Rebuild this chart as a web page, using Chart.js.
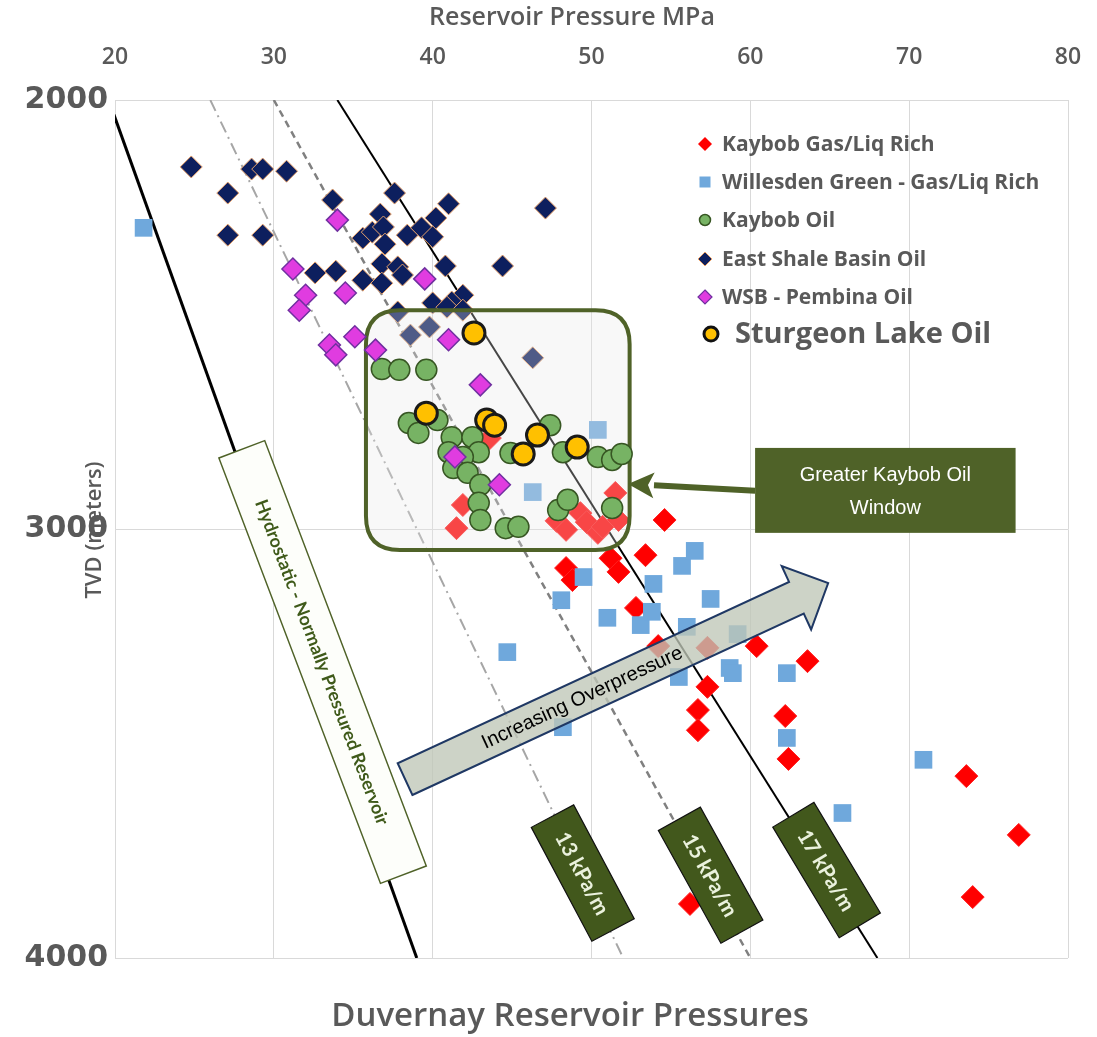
<!DOCTYPE html>
<html><head><meta charset="utf-8">
<script src="https://cdn.jsdelivr.net/npm/chart.js@4.4.1/dist/chart.umd.min.js"></script>
<style>html,body{margin:0;padding:0;background:#fff;}canvas{display:block;}</style>
</head><body>
<canvas id="c" width="1097" height="1037"></canvas>
<script>
// ---------- DATA ----------
const xTickValues = [20, 30, 40, 50, 60, 70, 80];
const yTickValues = [2000, 3000, 4000];

const kaybobGasP = [41.9,41.5,43.6,47.8,48.4,49.3,49.7,50.4,50.7,51.5,51.7,48.0,54.6,48.4,48.8,51.2,51.7,53.4,52.8,54.2,57.3,60.4,63.6,57.3,56.7,56.7,62.2,62.4,73.6,76.9,74.0,56.2];
const kaybobGasD = [2944,2998,2788,2981,3002,2963,2984,3009,2995,2916,2979,2956,2979,3091,3119,3068,3100,3061,3184,3273,3277,3273,3308,3368,3422,3469,3436,3536,3576,3713,3858,3874];

const willesdenP = [21.8,50.4,46.3,49.5,48.1,51.0,53.1,53.8,53.9,55.7,56.5,57.5,56.0,59.2,58.7,58.9,55.5,62.3,44.7,48.2,62.3,70.9,65.8];
const willesdenD = [2298,2769,2914,3112,3166,3207,3224,3193,3128,3086,3051,3163,3228,3245,3324,3336,3345,3336,3287,3462,3487,3538,3662];

const kaybobOilP = [36.8,37.9,39.6,38.5,39.1,40.3,41.2,41.0,42.5,42.9,41.9,41.3,42.2,43.0,42.9,43.0,44.6,45.4,44.9,47.4,48.2,50.4,51.3,51.9,47.9,48.5,51.3];
const kaybobOilD = [2627,2629,2629,2753,2776,2746,2786,2821,2786,2821,2832,2858,2869,2897,2939,2979,2998,2995,2823,2758,2821,2832,2839,2825,2956,2932,2951];

const eastShaleP = [24.8,28.6,29.3,30.8,27.1,37.6,33.7,41.0,36.7,40.2,27.1,29.3,35.6,36.2,36.9,38.4,39.3,40.0,37.0,44.4,32.6,33.9,35.6,36.8,37.8,38.1,36.8,40.8,41.9,40.0,41.2,37.8,38.6,39.8,40.9,41.9,47.1,46.3];
const eastShaleD = [2156,2161,2161,2166,2217,2217,2233,2242,2266,2275,2315,2315,2322,2308,2296,2315,2298,2319,2336,2387,2403,2399,2420,2382,2389,2408,2427,2387,2455,2473,2471,2494,2548,2529,2483,2490,2252,2601];

const wsbPembinaP = [34.0,31.2,32.0,31.6,34.5,39.5,33.5,33.9,35.1,36.4,41.0,43.0,41.4,44.2];
const wsbPembinaD = [2280,2394,2455,2490,2450,2417,2571,2594,2552,2583,2559,2664,2832,2897];

const sturgeonP = [42.6,39.6,43.4,43.9,46.6,45.7,49.1];
const sturgeonD = [2543,2730,2746,2758,2781,2825,2809];

// gradient reference lines (pressure at 2000 m and 4000 m)
const lineDepths = [2000, 4000];
const hydrostaticP = [19.6, 39.0];
const grad13P = [26, 52];
const grad15P = [30, 60];
const grad17P = [34, 68];

const seriesNames = ['Kaybob Gas/Liq Rich','Willesden Green - Gas/Liq Rich','Kaybob Oil','East Shale Basin Oil','WSB - Pembina Oil','Sturgeon Lake Oil'];

// ---------- helpers ----------
const zip = (xs, ys) => xs.map((x, i) => ({x: x, y: ys[i]}));
const TXT = '#595959';
const UIF = '"Open Sans", "DejaVu Sans", sans-serif';

// annotation anchors in data coordinates
const ann = {
  oilBox: {x1: 35.8, x2: 52.4, y1: 2490, y2: 3049},
  oilLabel: {x1: 60.3, x2: 76.7, y1: 2811, y2: 3009},
  oilArrowFrom: {x: 60.3, y: 2911}, oilArrowTo: {x: 52.3, y: 2895},
  overFrom: {x: 38.26, y: 3583}, overTo: {x: 64.9, y: 3126},
  hydroBox: {x: 33.07, y: 3310},
  gradBoxes: [
    {x: 49.45, y: 3802, angle: 62, text: '13 kPa/m'},
    {x: 57.5, y: 3807, angle: 61, text: '15 kPa/m'},
    {x: 64.8, y: 3795, angle: 59, text: '17 kPa/m'}
  ]
};

function roundRectPath(ctx, x, y, w, h, r) {
  ctx.beginPath();
  ctx.moveTo(x + r, y);
  ctx.lineTo(x + w - r, y); ctx.quadraticCurveTo(x + w, y, x + w, y + r);
  ctx.lineTo(x + w, y + h - r); ctx.quadraticCurveTo(x + w, y + h, x + w - r, y + h);
  ctx.lineTo(x + r, y + h); ctx.quadraticCurveTo(x, y + h, x, y + h - r);
  ctx.lineTo(x, y + r); ctx.quadraticCurveTo(x, y, x + r, y);
  ctx.closePath();
}

function rotBox(ctx, cx, cy, w, h, ang, fill, stroke, lw, text, font, tcol) {
  ctx.save();
  ctx.translate(cx, cy); ctx.rotate(ang * Math.PI / 180);
  ctx.fillStyle = fill; ctx.fillRect(-w / 2, -h / 2, w, h);
  ctx.strokeStyle = stroke; ctx.lineWidth = lw; ctx.strokeRect(-w / 2, -h / 2, w, h);
  ctx.fillStyle = tcol; ctx.font = font; ctx.textAlign = 'center'; ctx.textBaseline = 'middle';
  ctx.fillText(text, 0, 1);
  ctx.restore();
}

function drawMarker(ctx, style, x, y, r, fill, stroke, lw) {
  ctx.save();
  ctx.beginPath();
  if (style === 'circle') ctx.arc(x, y, r, 0, Math.PI * 2);
  else if (style === 'rect') ctx.rect(x - r, y - r, 2 * r, 2 * r);
  else { ctx.moveTo(x, y - r); ctx.lineTo(x + r, y); ctx.lineTo(x, y + r); ctx.lineTo(x - r, y); ctx.closePath(); }
  ctx.fillStyle = fill; ctx.fill();
  if (lw > 0) { ctx.strokeStyle = stroke; ctx.lineWidth = lw; ctx.stroke(); }
  ctx.restore();
}

const NAVY_INDEX = 3;

const annotationPlugin = {
  id: 'annotations',
  afterDatasetDraw(chart, args) {
    if (args.index !== NAVY_INDEX) return;
    const {ctx, scales: {x, y}} = chart;
    const b = ann.oilBox;
    const px1 = x.getPixelForValue(b.x1), px2 = x.getPixelForValue(b.x2);
    const py1 = y.getPixelForValue(b.y1), py2 = y.getPixelForValue(b.y2);
    ctx.save();
    roundRectPath(ctx, px1, py1, px2 - px1, py2 - py1, 34);
    ctx.fillStyle = 'rgba(232,232,232,0.3)'; ctx.fill();
    ctx.strokeStyle = '#4f6228'; ctx.lineWidth = 4; ctx.stroke();
    ctx.restore();
  },
  afterDatasetsDraw(chart) {
    const {ctx, scales: {x, y}} = chart;
    // hydrostatic label box
    const hb = ann.hydroBox;
    rotBox(ctx, x.getPixelForValue(hb.x), y.getPixelForValue(hb.y), 455, 49, 69.2,
      '#fdfefa', '#4f6228', 1.5, 'Hydrostatic - Normally Pressured Reservoir', 'bold 18px Lato', '#3f5a1a');
    // gradient label boxes
    ann.gradBoxes.forEach(g => {
      rotBox(ctx, x.getPixelForValue(g.x), y.getPixelForValue(g.y), 129, 48, g.angle,
        '#42581c', '#111', 1.2, g.text, 'bold 21px Lato', '#eaf1dd');
    });
    // increasing overpressure arrow
    const tx = x.getPixelForValue(ann.overFrom.x), ty = y.getPixelForValue(ann.overFrom.y);
    const hx = x.getPixelForValue(ann.overTo.x), hy = y.getPixelForValue(ann.overTo.y);
    const L = Math.hypot(hx - tx, hy - ty);
    const ux = (hx - tx) / L, uy = (hy - ty) / L, nx = -uy, ny = ux;
    const sh = 17.5, hh = 35, hl = 35;
    const bx = tx + ux * (L - hl), by = ty + uy * (L - hl);
    ctx.save();
    ctx.beginPath();
    ctx.moveTo(tx + nx * sh, ty + ny * sh);
    ctx.lineTo(bx + nx * sh, by + ny * sh);
    ctx.lineTo(bx + nx * hh, by + ny * hh);
    ctx.lineTo(hx, hy);
    ctx.lineTo(bx - nx * hh, by - ny * hh);
    ctx.lineTo(bx - nx * sh, by - ny * sh);
    ctx.lineTo(tx - nx * sh, ty - ny * sh);
    ctx.closePath();
    ctx.fillStyle = 'rgba(191,199,183,0.78)'; ctx.fill();
    ctx.strokeStyle = '#1f3864'; ctx.lineWidth = 2; ctx.stroke();
    ctx.translate(tx + ux * 195, ty + uy * 195);
    ctx.rotate(Math.atan2(uy, ux));
    ctx.fillStyle = '#000'; ctx.font = '20px "Liberation Sans", Arial';
    ctx.textAlign = 'center'; ctx.textBaseline = 'middle';
    ctx.fillText('Increasing Overpressure', 0, 1);
    ctx.restore();
    // oil window label + arrow
    const ol = ann.oilLabel;
    const lx1 = x.getPixelForValue(ol.x1), lx2 = x.getPixelForValue(ol.x2);
    const ly1 = y.getPixelForValue(ol.y1), ly2 = y.getPixelForValue(ol.y2);
    ctx.save();
    ctx.fillStyle = '#4f6228'; ctx.fillRect(lx1, ly1, lx2 - lx1, ly2 - ly1);
    ctx.fillStyle = '#fff'; ctx.font = '20px "Liberation Sans", Arial';
    ctx.textAlign = 'center'; ctx.textBaseline = 'middle';
    ctx.fillText('Greater Kaybob Oil', (lx1 + lx2) / 2, (ly1 + ly2) / 2 - 15);
    ctx.fillText('Window', (lx1 + lx2) / 2, (ly1 + ly2) / 2 + 18);
    const ax1 = x.getPixelForValue(ann.oilArrowFrom.x), ay1 = y.getPixelForValue(ann.oilArrowFrom.y);
    const ax2 = x.getPixelForValue(ann.oilArrowTo.x), ay2 = y.getPixelForValue(ann.oilArrowTo.y);
    const aL = Math.hypot(ax2 - ax1, ay2 - ay1);
    const aux = (ax2 - ax1) / aL, auy = (ay2 - ay1) / aL;
    const abx = ax2 - aux * 26, aby = ay2 - auy * 26;
    ctx.strokeStyle = '#4f6228'; ctx.lineWidth = 6;
    ctx.beginPath(); ctx.moveTo(ax1, ay1); ctx.lineTo(abx, aby); ctx.stroke();
    ctx.beginPath();
    ctx.moveTo(ax2, ay2);
    ctx.lineTo(abx - auy * 13, aby + aux * 13);
    ctx.lineTo(abx + aux * 6, aby + auy * 6);
    ctx.lineTo(abx + auy * 13, aby - aux * 13);
    ctx.closePath();
    ctx.fillStyle = '#4f6228'; ctx.fill();
    ctx.restore();
    // legend
    const lgX = 705, rows = [144, 182, 220, 259, 297, 334];
    const m = [
      ['diamond', 7, '#ff0000', '#ff0000', 0],
      ['rect', 5.5, '#6fa8dc', '#6fa8dc', 0],
      ['circle', 5.5, '#77b364', '#375623', 1.5],
      ['diamond', 7, '#0d1f5e', '#e8a26a', 1],
      ['diamond', 7, '#e03ce0', '#7030a0', 1.2],
      ['circle', 7, '#ffc000', '#111', 3]
    ];
    ctx.save();
    ctx.textBaseline = 'middle'; ctx.textAlign = 'left'; ctx.fillStyle = TXT;
    seriesNames.forEach((n, i) => {
      const mk = m[i];
      const mx = i === 5 ? lgX + 6 : lgX;
      drawMarker(ctx, mk[0], mx, rows[i], mk[1], mk[2], mk[3], mk[4]);
      ctx.fillStyle = TXT;
      ctx.font = i === 5 ? 'bold 29px ' + UIF : 'bold 21px ' + UIF;
      ctx.fillText(n, i === 5 ? 735 : 722, rows[i] + 1);
    });
    ctx.restore();
  },
  afterDraw(chart) {
    const {ctx} = chart;
    ctx.save();
    ctx.fillStyle = TXT; ctx.textAlign = 'center'; ctx.textBaseline = 'middle';
    ctx.font = '600 25px ' + UIF;
    ctx.fillText('Reservoir Pressure MPa', 572, 18);
    ctx.font = '600 33px ' + UIF;
    ctx.fillText('Duvernay Reservoir Pressures', 570, 1017);
    ctx.translate(95, 530); ctx.rotate(-Math.PI / 2);
    ctx.font = '600 22px ' + UIF;
    ctx.fillText('TVD (meters)', 0, 0);
    ctx.restore();
  }
};

const pointSet = (label, P, D, style, r, fill, stroke, bw, order) => ({
  type: 'scatter', label: label, data: zip(P, D), pointStyle: style, pointRadius: r,
  backgroundColor: fill, borderColor: stroke, borderWidth: bw, order: order
});
const lineSet = (label, P, color, width, dash, order) => ({
  type: 'line', label: label, data: zip(P, lineDepths), borderColor: color, borderWidth: width,
  borderDash: dash, pointRadius: 0, fill: false, clip: 0, order: order
});

new Chart(document.getElementById('c'), {
  type: 'scatter',
  data: {
    datasets: [
      pointSet(seriesNames[0], kaybobGasP, kaybobGasD, 'rectRot', 11.5, '#ff0000', '#ff2020', 1, 7),
      pointSet(seriesNames[1], willesdenP, willesdenD, 'rect', 12.5, '#6fa8dc', '#6fa8dc', 0, 6),
      pointSet(seriesNames[2], kaybobOilP, kaybobOilD, 'circle', 10.5, '#77b364', '#375623', 1.5, 4),
      pointSet(seriesNames[3], eastShaleP, eastShaleD, 'rectRot', 11, '#0d1f5e', '#e8a26a', 1, 5),
      pointSet(seriesNames[4], wsbPembinaP, wsbPembinaD, 'rectRot', 11, '#e03ce0', '#7030a0', 1.5, 3),
      pointSet(seriesNames[5], sturgeonP, sturgeonD, 'circle', 11, '#ffc000', '#1a1a1a', 3, 2),
      lineSet('Hydrostatic', hydrostaticP, '#000000', 3, [], 10),
      lineSet('13 kPa/m', grad13P, '#a6a6a6', 2, [12, 5, 2, 5], 10),
      lineSet('15 kPa/m', grad15P, '#808080', 2.5, [7, 5], 10),
      lineSet('17 kPa/m', grad17P, '#000000', 2, [], 10)
    ]
  },
  options: {
    responsive: false, animation: false,
    layout: {padding: {left: 0, top: 0, right: 29, bottom: 79}},
    plugins: {legend: {display: false}, tooltip: {enabled: false}, title: {display: false}},
    scales: {
      x: {
        type: 'linear', position: 'top', min: 20, max: 80,
        afterBuildTicks: s => { s.ticks = xTickValues.map(v => ({value: v})); },
        ticks: {font: {family: 'Open Sans', size: 23, weight: '600'}, color: TXT, padding: 29, maxRotation: 0,
                callback: v => String(v)},
        grid: {color: '#d9d9d9', lineWidth: 1, drawTicks: false},
        border: {color: '#d9d9d9'},
        afterFit: s => { s.height = 100; s.paddingLeft = 0; s.paddingRight = 0; }
      },
      y: {
        type: 'linear', reverse: true, min: 2000, max: 4000,
        afterBuildTicks: s => { s.ticks = yTickValues.map(v => ({value: v})); },
        ticks: {font: {family: 'DejaVu Sans', size: 30, weight: 'bold'}, color: TXT, padding: 7,
                callback: v => String(v)},
        grid: {color: '#d9d9d9', lineWidth: 1, drawTicks: false},
        border: {color: '#d9d9d9'},
        afterFit: s => { s.width = 115; s.paddingTop = 0; s.paddingBottom = 0; }
      }
    }
  },
  plugins: [annotationPlugin]
});
</script>
</body></html>
